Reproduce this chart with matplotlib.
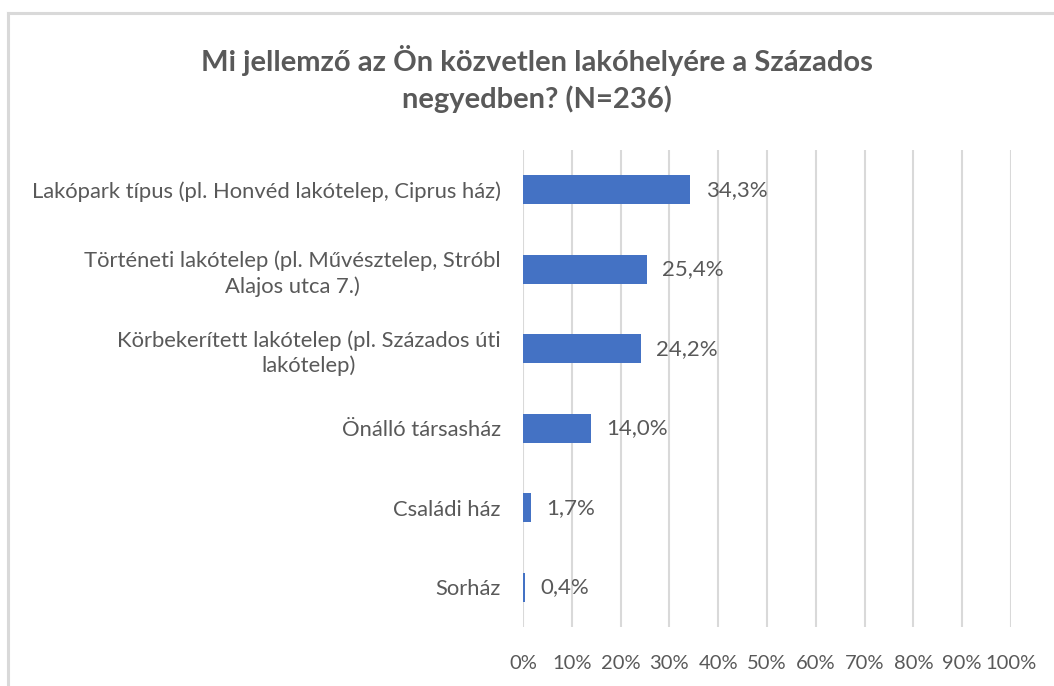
import matplotlib.pyplot as plt
from matplotlib.lines import Line2D

# adatok
kategoriak = [
    'Lakópark típus (pl. Honvéd lakótelep, Ciprus ház)',
    'Történeti lakótelep (pl. Művésztelep, Stróbl\nAlajos utca 7.)',
    'Körbekerített lakótelep (pl. Százados úti\nlakótelep)',
    'Önálló társasház',
    'Családi ház',
    'Sorház',
]
ertekek = [34.3, 25.4, 24.2, 14.0, 1.7, 0.4]
x_tickek = [0, 10, 20, 30, 40, 50, 60, 70, 80, 90, 100]
cim = 'Mi jellemző az Ön közvetlen lakóhelyére a Százados\nnegyedben? (N=236)'

szurke = '#595959'
kek = '#4472C4'
plt.rcParams['font.family'] = ['Lato', 'DejaVu Sans']

fig = plt.figure(figsize=(10.54, 6.86), dpi=100)
ax = fig.add_axes([0.4962, 0.0860, 0.4630, 0.6953])

y = list(range(len(kategoriak)))
ax.barh(y, ertekek, height=0.37, color=kek, zorder=3)
ax.set_ylim(len(kategoriak) - 0.5, -0.5)
ax.set_xlim(0, 100)

# ertek cimkek
for i, v in enumerate(ertekek):
    ax.annotate(f'{v:.1f}'.replace('.', ',') + '%', (v, i), xytext=(11, 0),
                textcoords='offset points', va='center', ha='left',
                fontsize=16, color=szurke)

ax.set_yticks(y)
ax.set_yticklabels(kategoriak, fontsize=15.8, color=szurke,
                   multialignment='center', linespacing=1.3)
ax.set_xticks(x_tickek)
ax.set_xticklabels([f'{t}%' for t in x_tickek], fontsize=14.5, color=szurke)
ax.tick_params(axis='y', length=0, pad=16)
ax.tick_params(axis='x', length=0, pad=20)
ax.grid(axis='x', color='#d9d9d9', linewidth=1.5, zorder=0)
for s in ax.spines.values():
    s.set_visible(False)

fig.text(0.509, 0.885, cim, ha='center', va='center', fontsize=21,
         fontweight='bold', color=szurke, linespacing=1.45)

# diagram keret (bal es felso)
fig.add_artist(Line2D([8 / 1054, 8 / 1054], [0, 1 - 13 / 686], color='#d9d9d9', linewidth=2.2))
fig.add_artist(Line2D([8 / 1054, 1], [1 - 13 / 686, 1 - 13 / 686], color='#d9d9d9', linewidth=2.2))

fig.savefig('out.png', dpi=100)
